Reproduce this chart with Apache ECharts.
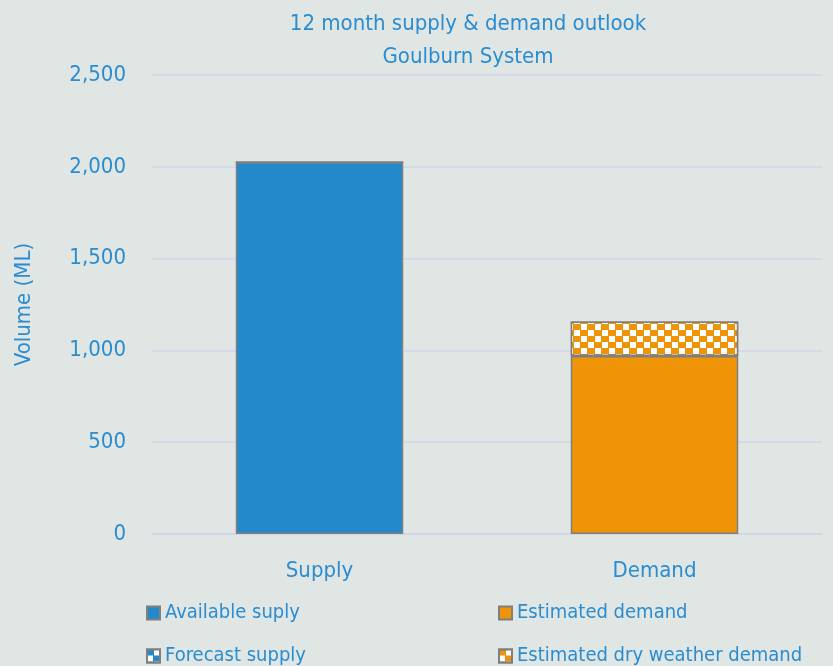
<!DOCTYPE html>
<html>
<head>
<meta charset="utf-8">
<script src="https://cdn.jsdelivr.net/npm/echarts@6/dist/echarts.min.js"></script>
<style>
  html, body { margin: 0; padding: 0; background: #e0e6e4; }
  #chart { width: 833px; height: 666px; }
</style>
</head>
<body>
<div id="chart"></div>
<script>
var categories = ['Supply', 'Demand'];
var availableSupply = [2025, '-'];
var forecastSupply = [0, '-'];
var estimatedDemand = ['-', 970];
var dryWeatherDemand = ['-', 188];
var yTicks = [0, 500, 1000, 1500, 2000, 2500];

var font = '"Liberation Sans Narrow", "DejaVu Sans Condensed", Roboto, sans-serif';
var blue = '#2389cb';
var orange = '#ef9406';
var textBlue = '#2b8ccf';

var myChart = echarts.init(document.getElementById('chart'));

// checker pattern for the hatched series
var checker = {
    symbol: 'rect',
    symbolSize: 1,
    color: '#ffffff',
    dashArrayX: [[6, 8], [0, 7, 6, 1]],
    dashArrayY: [6, 0],
    rotation: 0
};

function legendAt(name, left, top) {
    return {
        data: [name],
        left: left,
        top: top,
        itemWidth: 13,
        itemHeight: 13,
        icon: 'rect',
        textStyle: { color: textBlue, fontSize: 20, fontFamily: font }
    };
}

var option = {
    backgroundColor: '#e0e6e4',
    title: {
        text: '12 month supply & demand outlook\nGoulburn System',
        left: 463,
        top: 3,
        textAlign: 'center',
        textStyle: {
            color: textBlue,
            fontSize: 22,
            fontWeight: 'normal',
            fontFamily: font,
            lineHeight: 33
        }
    },
    legend: [
        legendAt('Available suply', 141, 598),
        legendAt('Estimated demand', 493, 598),
        legendAt('Forecast supply', 141, 641),
        legendAt('Estimated dry weather demand', 493, 641)
    ],
    grid: {
        left: 152,
        right: 11,
        top: 75,
        bottom: 132,
        containLabel: false
    },
    xAxis: {
        type: 'category',
        data: categories,
        axisLine: { lineStyle: { color: '#d2d5ec', width: 1.5 } },
        axisTick: { show: false },
        axisLabel: { color: textBlue, fontSize: 22, fontFamily: font, margin: 26 }
    },
    yAxis: {
        type: 'value',
        min: yTicks[0],
        max: yTicks[yTicks.length - 1],
        interval: 500,
        name: 'Volume (ML)',
        nameLocation: 'middle',
        nameGap: 117,
        nameTextStyle: { color: textBlue, fontSize: 22, fontFamily: font },
        axisLine: { show: false },
        axisTick: { show: false },
        splitLine: { lineStyle: { color: '#d2d5ec', width: 1.5 } },
        axisLabel: {
            color: textBlue,
            fontSize: 22,
            fontFamily: font,
            margin: 26,
            formatter: function (v) { return v.toLocaleString('en-US'); }
        }
    },
    series: [
        {
            name: 'Available suply',
            type: 'bar',
            stack: 'total',
            barWidth: '50%',
            data: availableSupply,
            itemStyle: { color: blue, borderColor: '#7f7f7f', borderWidth: 1.5 }
        },
        {
            name: 'Forecast supply',
            type: 'bar',
            stack: 'total',
            barWidth: '50%',
            data: forecastSupply,
            itemStyle: { color: blue, borderColor: '#7f7f7f', borderWidth: 1.5, decal: checker }
        },
        {
            name: 'Estimated demand',
            type: 'bar',
            stack: 'total',
            barWidth: '50%',
            data: estimatedDemand,
            itemStyle: { color: orange, borderColor: '#7f7f7f', borderWidth: 1.5 }
        },
        {
            name: 'Estimated dry weather demand',
            type: 'bar',
            stack: 'total',
            barWidth: '50%',
            data: dryWeatherDemand,
            itemStyle: { color: orange, borderColor: '#7f7f7f', borderWidth: 1.5, decal: checker }
        }
    ]
};

myChart.setOption(option);
</script>
</body>
</html>
